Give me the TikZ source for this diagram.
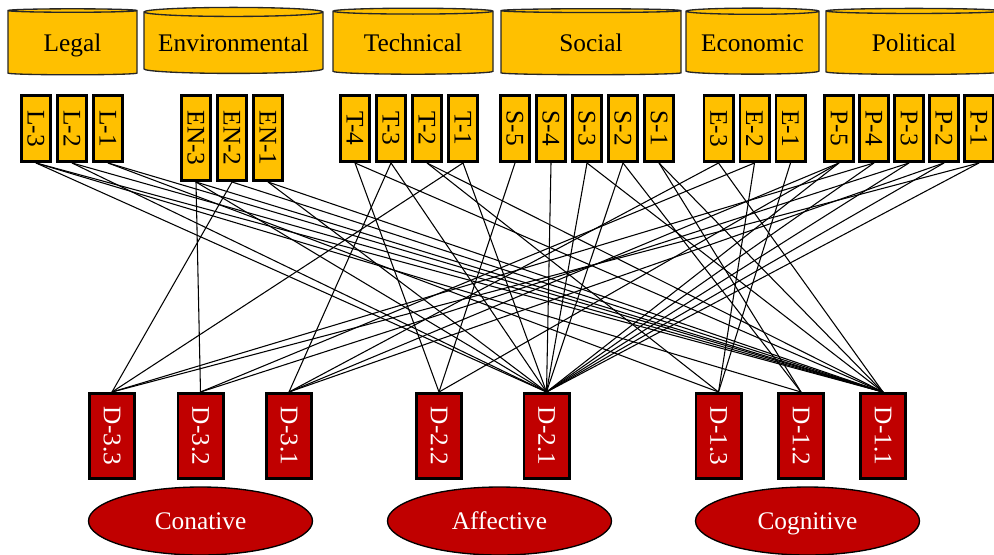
\documentclass[tikz,border=0pt]{standalone}
\usepackage{fontspec}
\setmainfont{Liberation Serif}
\usepackage{graphicx}
\usetikzlibrary{shapes.geometric, positioning}
\definecolor{amber}{HTML}{FFC000}
\definecolor{crimson}{HTML}{C00000}
\newcommand{\vlabel}[1]{\rotatebox{-90}{#1}}
\tikzset{
        x=0.75pt, y=-0.75pt, % one unit is one pixel of the reference, y runs down
        every node/.style={font=\fontsize{19}{22}\selectfont, inner sep=0pt},
        drum/.style={cylinder, shape border rotate=90, aspect=0.06, draw=black!85, line width=1pt, fill=amber, minimum height=49.5pt, text height=12.5pt, text depth=0pt},
        factor/.style={draw, line width=2.2pt, fill=amber, minimum width=21.8pt, minimum height=49.5pt},
        dimbox/.style={draw, line width=2.2pt, fill=crimson, text=white, minimum width=33.8pt, minimum height=63.8pt},
        pole/.style={ellipse, draw, line width=1pt, fill=crimson, text=white, minimum width=168pt, minimum height=51pt, text height=12.5pt, text depth=0pt},
        link/.style={line width=0.8pt},
    }

\begin{document}
\begin{tikzpicture}
    \useasboundingbox (0,0) rectangle (994,554);

    % groups of factors
    \node[drum, minimum width=96.75pt] (legal) at (72.5,43) {Legal};
    \node[drum, minimum width=134.25pt] (envir) at (233.5,43) {Environmental};
    \node[drum, minimum width=120pt] (techn) at (413,43) {Technical};
    \node[drum, minimum width=135pt] (socia) at (591,43) {Social};
    \node[drum, minimum width=99.75pt] (econo) at (752.5,43) {Economic};
    \node[drum, minimum width=132pt] (polit) at (914,43) {Political};

    % single factors
    \foreach \k [count=\i from 0] in {3,2,1}
        \node[factor] (l\k) at (36+36*\i,128.5) {\vlabel{L-\k}};
    \foreach \k [count=\i from 0] in {3,2,1}
        \node[factor, minimum height=63.8pt] (en\k) at (196+36*\i,138) {\vlabel{EN-\k}};
    \foreach \k [count=\i from 0] in {4,3,2,1}
        \node[factor] (t\k) at (355+36*\i,128.5) {\vlabel{T-\k}};
    \foreach \k [count=\i from 0] in {5,4,3,2,1}
        \node[factor] (s\k) at (515+36*\i,128.5) {\vlabel{S-\k}};
    \foreach \k [count=\i from 0] in {3,2,1}
        \node[factor] (e\k) at (718.5+36*\i,128.5) {\vlabel{E-\k}};
    \foreach \k [count=\i from 0] in {5,4,3,2,1}
        \node[factor] (p\k) at (839+35*\i,128.5) {\vlabel{P-\k}};

    % dimensions
    \node[dimbox] (d33) at (112,436) {\vlabel{D-3.3}};
    \node[dimbox] (d32) at (200.5,436) {\vlabel{D-3.2}};
    \node[dimbox] (d31) at (289,436) {\vlabel{D-3.1}};
    \node[dimbox] (d22) at (439,436) {\vlabel{D-2.2}};
    \node[dimbox] (d21) at (546.5,436) {\vlabel{D-2.1}};
    \node[dimbox] (d13) at (718.5,436) {\vlabel{D-1.3}};
    \node[dimbox] (d12) at (801,436) {\vlabel{D-1.2}};
    \node[dimbox] (d11) at (883,436) {\vlabel{D-1.1}};

    \node[pole] (conat) at (200.5,521) {Conative};
    \node[pole] (affec) at (499.5,521) {Affective};
    \node[pole] (cogni) at (807.5,521) {Cognitive};

    % links
    \foreach \s/\t in {l3/d21, l3/d12, l3/d11, l2/d21, l2/d11, l1/d13, l1/d11,
            en3/d32, en3/d21, en3/d11, en2/d33, en2/d11, en1/d21, en1/d11,
            t4/d22, t4/d11, t3/d31, t3/d21, t2/d13, t2/d11, t1/d33, t1/d21,
            s5/d22, s4/d21, s3/d21, s3/d11, s2/d21, s2/d12, s1/d12, s1/d11,
            e3/d31, e3/d11, e2/d32, e2/d13, e1/d13,
            p5/d31, p5/d22, p5/d21, p4/d33, p4/d21, p3/d32, p3/d21,
            p2/d31, p2/d21, p1/d33, p1/d21}
        \draw[link] (\s.south) -- (\t.north);
\end{tikzpicture}
\end{document}
